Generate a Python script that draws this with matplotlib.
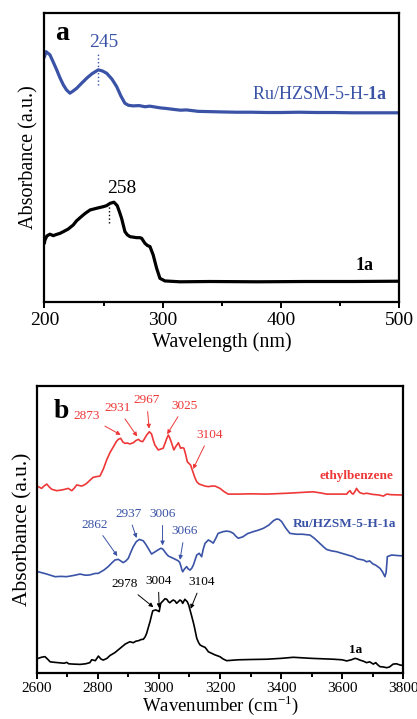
import numpy as np
import matplotlib
matplotlib.use("Agg")
import matplotlib.pyplot as plt
from matplotlib.ticker import MultipleLocator

plt.rcParams['font.family'] = 'Liberation Serif'
plt.rcParams['mathtext.fontset'] = 'custom'
plt.rcParams['mathtext.rm'] = 'Liberation Serif'
plt.rcParams['mathtext.bf'] = 'Liberation Serif:bold'

BLUE = '#3a53a6'
RED = '#ee3838'
BLACK = '#000000'

# ---- panel a : UV-vis ----
uv_blue_x = [200, 201.3, 204.6, 207.5, 210.3, 213, 215.9, 218.5, 221.5, 224, 227.2, 231, 235.7, 240,
             245.5, 249, 252.6, 257, 261, 264.5, 268, 271, 275, 280, 285, 289, 292, 298, 303, 308.8,
             315, 320, 330, 340, 350, 362, 375, 388, 400, 415, 430, 445, 460, 480, 500]
uv_blue_y = [0.85, 0.867, 0.856, 0.83, 0.804, 0.777, 0.752, 0.735, 0.723, 0.73, 0.740, 0.756, 0.775, 0.79,
             0.804, 0.80, 0.792, 0.772, 0.746, 0.714, 0.688, 0.681, 0.679, 0.680, 0.676, 0.678, 0.676,
             0.672, 0.670, 0.667, 0.664, 0.665, 0.660, 0.659, 0.658, 0.657, 0.657, 0.656, 0.656, 0.657,
             0.656, 0.656, 0.655, 0.655, 0.655]

uv_black_x = [200, 200.4, 202, 204.6, 207.4, 210, 213.1, 216, 220.1, 224.3, 227, 230, 234, 238.5, 244.1,
              249.7, 252.5, 255.4, 258.7, 261.5, 263.5, 265.2, 268, 270, 272.3, 277.9, 280.5, 282.1,
              284.9, 287, 289.2, 291.9, 294.8, 297.6, 301.8, 314.5, 340, 380, 420, 460, 500]
uv_black_y = [0.205, 0.214, 0.228, 0.234, 0.229, 0.233, 0.237, 0.243, 0.252, 0.266, 0.28, 0.291, 0.305,
              0.318, 0.324, 0.3295, 0.333, 0.341, 0.345, 0.333, 0.31, 0.289, 0.243, 0.232, 0.2255, 0.222,
              0.222, 0.220, 0.2026, 0.195, 0.191, 0.162, 0.116, 0.081, 0.072, 0.069, 0.07, 0.069, 0.07,
              0.07, 0.071]

uv_peaks = [245, 258]

# ---- panel b : IR ----
ir_red_x = [2600, 2605, 2616, 2625, 2633, 2641, 2649, 2665, 2680, 2693, 2703, 2715, 2724, 2731, 2739,
            2747, 2756, 2764, 2775, 2785, 2796, 2807, 2818, 2829, 2840, 2851, 2860, 2867, 2875, 2882,
            2889, 2897, 2905, 2916, 2925, 2933, 2940, 2947, 2954, 2960, 2969, 2976, 2982, 2987, 2998,
            3006, 3014, 3020, 3026, 3031, 3036, 3042, 3049, 3056, 3064, 3071, 3077, 3082, 3088, 3093,
            3104, 3113, 3118, 3124, 3132, 3140, 3151, 3162, 3173, 3184, 3192, 3200, 3213, 3227, 3260,
            3300, 3353, 3420, 3470, 3505, 3530, 3549, 3580, 3615, 3620, 3626, 3631, 3636, 3642, 3647,
            3652, 3658, 3670, 3680, 3700, 3720, 3735, 3741, 3746, 3760, 3789, 3800]
ir_red_y = [0.65, 0.649, 0.643, 0.652, 0.658, 0.648, 0.64, 0.635, 0.637, 0.64, 0.643, 0.635, 0.645,
            0.655, 0.653, 0.651, 0.655, 0.661, 0.672, 0.6815, 0.684, 0.686, 0.71, 0.742, 0.768, 0.788,
            0.805, 0.814, 0.8176, 0.805, 0.800, 0.801, 0.798, 0.802, 0.81, 0.814, 0.808, 0.806, 0.818,
            0.829, 0.8406, 0.8326, 0.81, 0.794, 0.777, 0.78, 0.783, 0.80, 0.8176, 0.829, 0.818, 0.800,
            0.777, 0.79, 0.802, 0.783, 0.785, 0.783, 0.76, 0.736, 0.724, 0.6955, 0.68, 0.666, 0.658,
            0.655, 0.651, 0.649, 0.651, 0.651, 0.647, 0.643, 0.632, 0.623, 0.623, 0.624, 0.623, 0.626,
            0.629, 0.631, 0.627, 0.623, 0.623, 0.623, 0.63, 0.635, 0.626, 0.623, 0.632, 0.643, 0.635,
            0.628, 0.624, 0.626, 0.622, 0.62, 0.616, 0.62, 0.623, 0.621, 0.62, 0.62]

ir_blue_x = [2600, 2605, 2630, 2660, 2680, 2698, 2720, 2742, 2760, 2774, 2790, 2802, 2807, 2820, 2834,
             2845, 2856, 2867, 2875, 2883, 2892, 2900, 2908, 2916, 2926, 2936, 2949, 2957, 2965, 2976,
             2985, 2993, 3006, 3012, 3017, 3024, 3031, 3047, 3063, 3068, 3071, 3075, 3078, 3084, 3091,
             3096, 3102, 3108, 3113, 3119, 3124, 3132, 3140, 3145, 3151, 3162, 3170, 3178, 3186, 3194,
             3210, 3222, 3233, 3244, 3252, 3260, 3275, 3290, 3309, 3325, 3342, 3360, 3375, 3385, 3393,
             3402, 3415, 3429, 3450, 3470, 3495, 3510, 3527, 3540, 3549, 3565, 3582, 3610, 3636, 3650,
             3660, 3670, 3680, 3690, 3700, 3710, 3724, 3732, 3740, 3744, 3748, 3762, 3789, 3800]
ir_blue_y = [0.352, 0.352, 0.345, 0.335, 0.336, 0.335, 0.339, 0.344, 0.34, 0.341, 0.346, 0.3467, 0.35,
             0.358, 0.37, 0.382, 0.393, 0.3955, 0.39, 0.384, 0.39, 0.399, 0.42, 0.4395, 0.457, 0.465,
             0.460, 0.448, 0.434, 0.414, 0.42, 0.4255, 0.434, 0.432, 0.4255, 0.415, 0.407, 0.399,
             0.3906, 0.385, 0.3757, 0.36, 0.352, 0.362, 0.37, 0.362, 0.358, 0.365, 0.3757, 0.395,
             0.4105, 0.4165, 0.4046, 0.43, 0.451, 0.463, 0.458, 0.452, 0.468, 0.486, 0.492, 0.494,
             0.492, 0.486, 0.476, 0.469, 0.474, 0.485, 0.492, 0.497, 0.5036, 0.515, 0.53, 0.536, 0.535,
             0.527, 0.505, 0.486, 0.483, 0.483, 0.480, 0.468, 0.451, 0.438, 0.430, 0.425, 0.422, 0.413,
             0.405, 0.397, 0.395, 0.393, 0.387, 0.39, 0.38, 0.375, 0.364, 0.352, 0.335, 0.35, 0.405,
             0.4105, 0.408, 0.408]

ir_black_x = [2600, 2605, 2616, 2627, 2635, 2644, 2660, 2680, 2690, 2698, 2705, 2720, 2742, 2760, 2774,
              2780, 2785, 2792, 2802, 2810, 2818, 2830, 2840, 2856, 2873, 2890, 2905, 2916, 2925, 2933,
              2943, 2949, 2955, 2960, 2966, 2971, 2976, 2980, 2990, 2998, 3001, 3006, 3014, 3020, 3026,
              3031, 3036, 3042, 3047, 3053, 3058, 3064, 3069, 3074, 3078, 3085, 3093, 3098, 3102, 3108,
              3115, 3124, 3130, 3135, 3143, 3151, 3156, 3162, 3172, 3184, 3200, 3210, 3222, 3260, 3300,
              3353, 3400, 3440, 3500, 3571, 3600, 3615, 3630, 3642, 3650, 3658, 3670, 3680, 3690, 3702,
              3710, 3716, 3724, 3735, 3746, 3755, 3767, 3778, 3789, 3800]
ir_black_y = [0.05, 0.05, 0.054, 0.056, 0.048, 0.038, 0.036, 0.034, 0.033, 0.036, 0.031, 0.03, 0.029,
              0.031, 0.035, 0.045, 0.044, 0.042, 0.058, 0.048, 0.044, 0.05, 0.06, 0.07, 0.085, 0.1,
              0.108, 0.1046, 0.11, 0.1116, 0.116, 0.1165, 0.125, 0.1374, 0.16, 0.178, 0.2, 0.216,
              0.219, 0.215, 0.213, 0.242, 0.251, 0.258, 0.256, 0.248, 0.244, 0.25, 0.2536, 0.25, 0.242,
              0.248, 0.2536, 0.25, 0.242, 0.256, 0.2476, 0.235, 0.219, 0.195, 0.166, 0.12, 0.105,
              0.0966, 0.092, 0.0886, 0.082, 0.073, 0.068, 0.062, 0.0558, 0.048, 0.042, 0.045, 0.046,
              0.047, 0.05, 0.0537, 0.05, 0.047, 0.045, 0.041, 0.045, 0.05, 0.048, 0.044, 0.04, 0.035,
              0.038, 0.03, 0.035, 0.028, 0.021, 0.02, 0.0174, 0.02, 0.03, 0.031, 0.027, 0.025]

red_peaks = [2873, 2931, 2967, 3025, 3104]
blue_peaks = [2862, 2937, 3006, 3066]
black_peaks = [2978, 3004, 3104]

fig = plt.figure(figsize=(4.17, 7.19), dpi=100)
ax1 = fig.add_axes([0.1067, 0.5804, 0.8509, 0.4011])
ax2 = fig.add_axes([0.088, 0.0644, 0.879, 0.3987])

for ax in (ax1, ax2):
    for s in ax.spines.values():
        s.set_linewidth(1.6)
    ax.set_yticks([])
    ax.set_ylim(0, 1)
    ax.tick_params(axis='x', which='major', direction='out', length=4.5, width=1.4)
    ax.tick_params(axis='x', which='minor', direction='out', length=3, width=1.4)

# panel a
ax1.plot(uv_blue_x, uv_blue_y, color=BLUE, lw=2.3)
ax1.plot(uv_black_x, uv_black_y, color=BLACK, lw=2.3)
ax1.set_xlim(200, 500)
ax1.xaxis.set_major_locator(MultipleLocator(100))
ax1.xaxis.set_minor_locator(MultipleLocator(50))
ax1.tick_params(axis='x', labelsize=14, pad=3)
ax1.set_xlabel('Wavelength (nm)', fontsize=14.5, labelpad=2)
ax1.set_ylabel('Absorbance (a.u.)', fontsize=14.5, labelpad=4)

# peak markers: dotted guide lines
yb = np.interp(uv_peaks[0] + 0.5, uv_blue_x, uv_blue_y)
ax1.plot([uv_peaks[0] + 0.5] * 2, [yb - 0.053, yb + 0.057], ls=':', color=BLUE, lw=1)
ax1.text(uv_peaks[0] + 4.7, yb + 0.094, str(uv_peaks[0]), color=BLUE, fontsize=14,
         ha='center', va='center')
yk = np.interp(uv_peaks[1], uv_black_x, uv_black_y)
ax1.plot([uv_peaks[1] - 3.2] * 2, [yk - 0.072, yk - 0.01], ls=':', color=BLACK, lw=1)
ax1.text(uv_peaks[1] + 7.2, yk + 0.05, str(uv_peaks[1]), color=BLACK, fontsize=14,
         ha='center', va='center')

ax1.text(490, 0.717, r'Ru/HZSM-5-H-$\mathbf{1a}$', color=BLUE, fontsize=13, ha='right', va='center')
ax1.text(478, 0.127, '1a', color=BLACK, fontsize=13, fontweight='bold', ha='right', va='center')
ax1.text(0.03, 0.93, 'a', transform=ax1.transAxes, fontsize=20, fontweight='bold',
         ha='left', va='center')

# panel b
ax2.plot(ir_red_x, ir_red_y, color=RED, lw=1.2)
ax2.plot(ir_blue_x, ir_blue_y, color=BLUE, lw=1.2)
ax2.plot(ir_black_x, ir_black_y, color=BLACK, lw=1.2)
ax2.set_xlim(2600, 3800)
ax2.xaxis.set_major_locator(MultipleLocator(200))
ax2.xaxis.set_minor_locator(MultipleLocator(100))
ax2.tick_params(axis='x', labelsize=11, pad=2)
ax2.set_xlabel(r'Wavenumber (cm$^{-1}$)', fontsize=13.5, labelpad=-1)
ax2.set_ylabel('Absorbance (a.u.)', fontsize=15.5, labelpad=3)

# text offsets (wavenumber, absorbance) of each label from its arrow tip
red_off = [(-111, 0.066), (-65, 0.10), (-8, 0.10), (58, 0.10), (55, 0.12)]
blue_off = [(-73, 0.11), (-27, 0.085), (0, 0.11), (16, 0.10)]
black_off = [(-93, 0.08), (-3, 0.096), (36, 0.094)]
red_tip = [2875, 2929, 2968, 3027, 3112]
blue_tip = [2864, 2927, 3012, 3069]
black_tip = [2982, 3001, 3104]


def label_peaks(peaks, tips, offs, xs, ys, color):
    for p, t, (dx, dy) in zip(peaks, tips, offs):
        yt = np.interp(t, xs, ys) + 0.012
        ax2.annotate(str(p), xy=(t, yt), xytext=(t + dx, yt + dy), color=color,
                     fontsize=9.5, ha='center', va='center',
                     arrowprops=dict(arrowstyle='-|>', color=color, lw=0.7,
                                     mutation_scale=6, shrinkA=2, shrinkB=0))


label_peaks(red_peaks, red_tip, red_off, ir_red_x, ir_red_y, RED)
label_peaks(blue_peaks, blue_tip, blue_off, ir_blue_x, ir_blue_y, BLUE)
label_peaks(black_peaks, black_tip, black_off, ir_black_x, ir_black_y, BLACK)

ax2.text(3767, 0.686, 'ethylbenzene', color=RED, fontsize=9.5, fontweight='bold',
         ha='right', va='center')
ax2.text(3778, 0.519, 'Ru/HZSM-5-H-1a', color=BLUE, fontsize=9.5, fontweight='bold',
         ha='right', va='center')
ax2.text(3645, 0.079, '1a', color=BLACK, fontsize=9.5, fontweight='bold', ha='center', va='center')
ax2.text(0.045, 0.91, 'b', transform=ax2.transAxes, fontsize=20, fontweight='bold',
         ha='left', va='center')

fig.savefig('out.png', dpi=100)
